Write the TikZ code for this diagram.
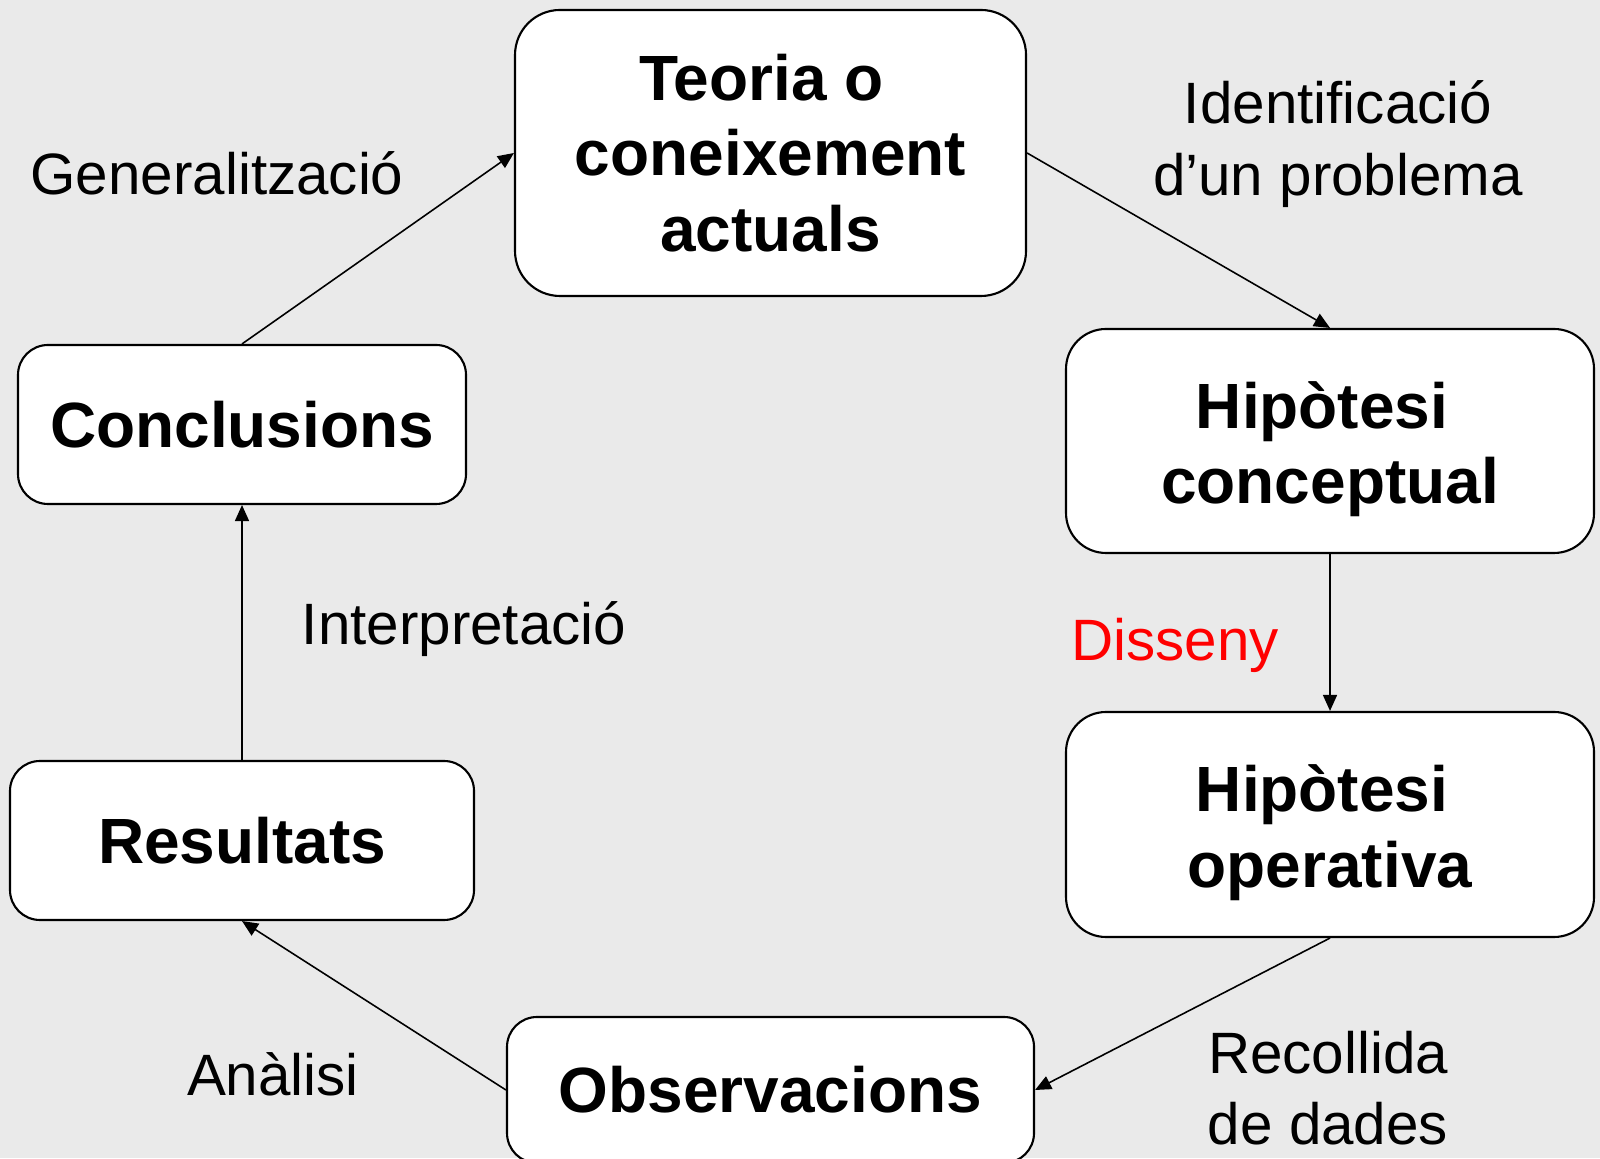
\documentclass[tikz,border=0pt]{standalone}
\usepackage{fontspec}
\setmainfont{Liberation Sans}
\usepackage{tikz}
\usetikzlibrary{arrows.meta, positioning}

\definecolor{fons}{RGB}{234,234,234}
\definecolor{vermell}{RGB}{255,0,0}

\newcommand{\lowline}[1]{\raisebox{0pt}[\dimexpr\height+0.16cm\relax]{#1}}

\begin{document}
\begin{tikzpicture}[
    >={Triangle[length=0.16cm,width=0.14cm]},
    stage/.style={rectangle, draw, fill=white, line width=0.6pt,
        rounded corners=0.3cm, inner sep=0pt, align=center,
        font=\fontsize{18.2}{21.5}\selectfont\bfseries},
    tag/.style={rectangle, inner sep=0pt, align=center,
        font=\fontsize{16.6}{20.3}\selectfont},
    link/.style={->, line width=0.45pt}]
        \fill[fons] (0,0) rectangle (16,11.58);
        \useasboundingbox (0,0) rectangle (16,11.58);

        \node[stage, rounded corners=0.45cm, minimum width=5.11cm, minimum height=2.86cm]
            (teoria) at (7.705,10.05)
            {Teoria o\kern0.18cm\\coneixement\\actuals};

        \node[stage, rounded corners=0.4cm, minimum width=5.28cm, minimum height=2.24cm]
            (hip_c) at (13.30,7.17)
            {\lowline{Hipòtesi\kern0.16cm}\\conceptual};

        \node[stage, rounded corners=0.4cm, minimum width=5.28cm, minimum height=2.25cm]
            (hip_o) at (13.30,3.335)
            {\lowline{Hipòtesi\kern0.16cm}\\operativa};

        \node[stage, minimum width=5.27cm, minimum height=1.46cm]
            (obs) at (7.705,0.68)
            {Observacions};

        \node[stage, minimum width=4.64cm, minimum height=1.59cm]
            (result) at (2.42,3.175)
            {Resultats};

        \node[stage, minimum width=4.48cm, minimum height=1.59cm]
            (concl) at (2.42,7.335)
            {Conclusions};

        \node[tag] (l_gen) at (2.17,9.85) {Generalització};
        \node[tag] (l_ident) at (13.38,10.14) {Identificació\\d’un problema};
        \node[tag] (l_interp) at (4.64,5.29) {Interpretació};
        \node[tag, text=vermell] (l_diss) at (11.75,5.13) {Disseny};
        \node[tag] (l_recoll) at (13.28,0.70) {Recollida\\de dades};
        \node[tag] (l_anal) at (2.73,0.84) {Anàlisi};

        \draw[link] (concl.north) -- (teoria.west);
        \draw[link] (teoria.east) -- (hip_c.north);
        \draw[link] (hip_c.south) -- (hip_o.north);
        \draw[link] (hip_o.south) -- (obs.east);
        \draw[link] (obs.west) -- (result.south);
        \draw[link] (result.north) -- (concl.south);

    \end{tikzpicture}
\end{document}
